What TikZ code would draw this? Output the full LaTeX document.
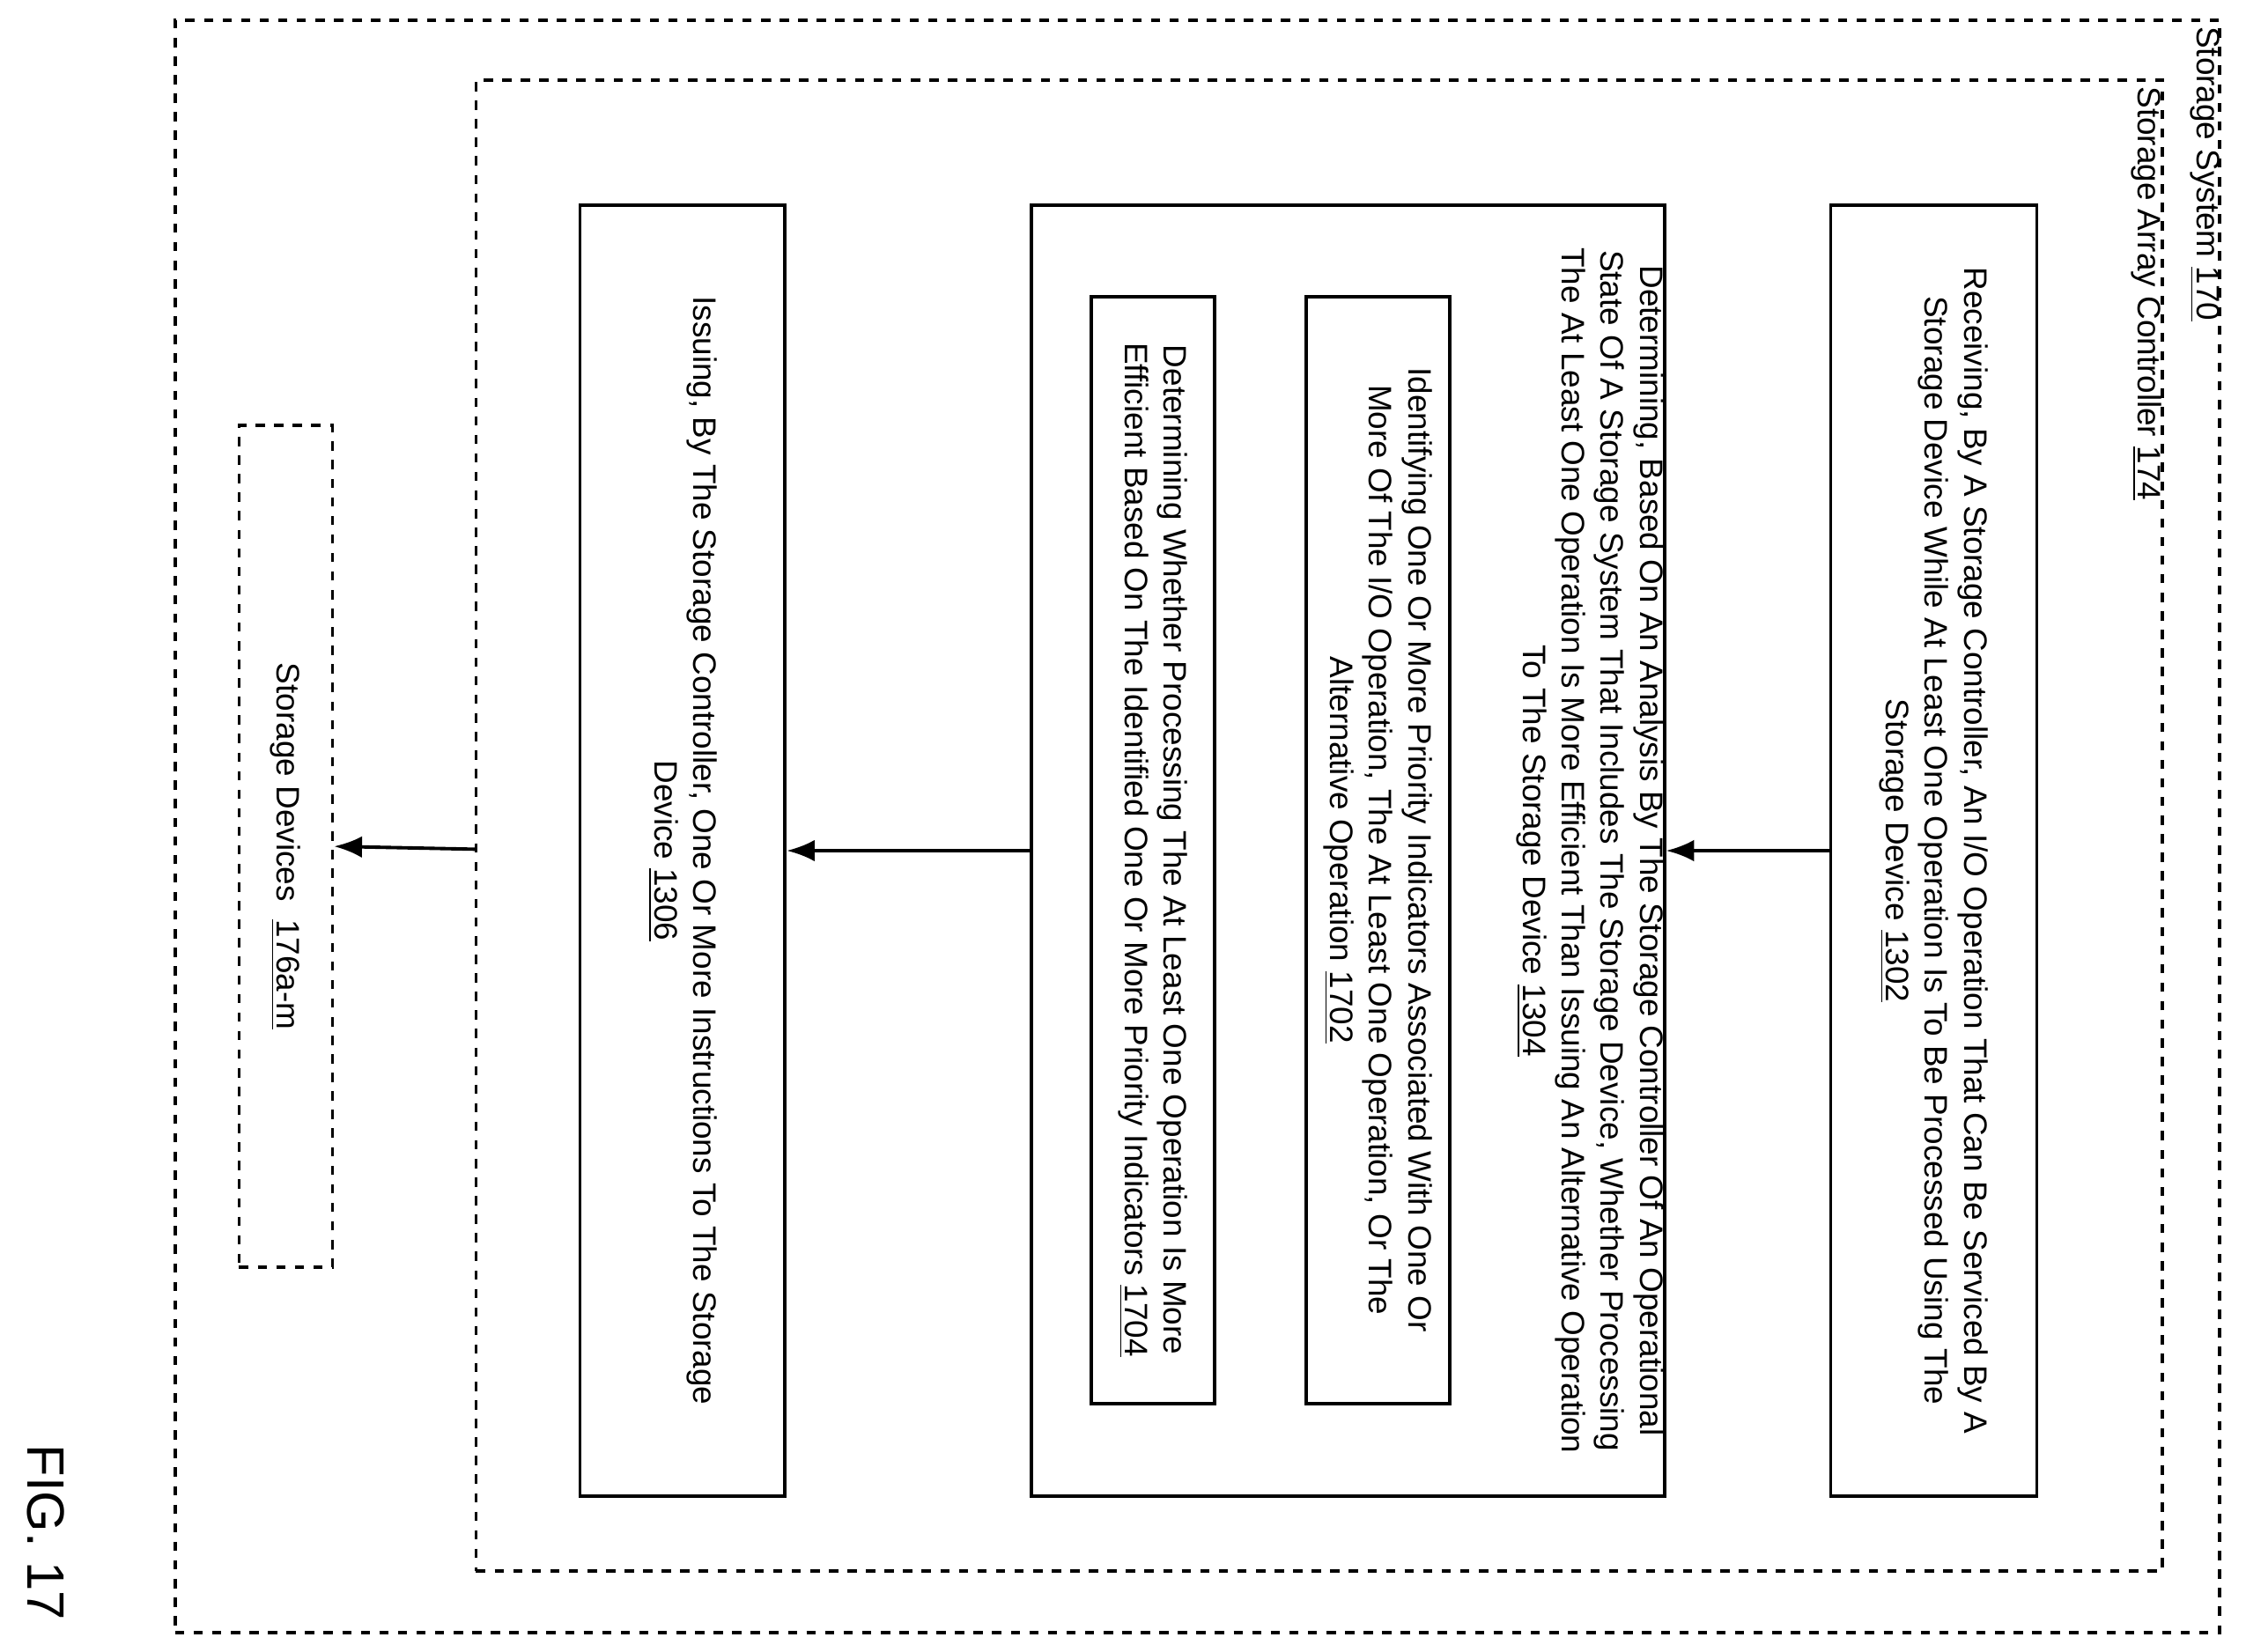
\documentclass[tikz,border=0pt]{standalone}
\usepackage{fontspec}
\setmainfont{Liberation Sans}
\usetikzlibrary{arrows.meta}
\begin{document}
\begin{tikzpicture}[x=0.01626cm,y=-0.01626cm,
  dbox/.style={draw,dashed,line width=1.1pt,inner sep=0pt},
  sbox/.style={draw,line width=1.1pt,inner sep=0pt},
  txt/.style={rotate=-90,align=center,font=\fontsize{10.5}{12.6}\selectfont,inner sep=0pt},
  lbl/.style={rotate=-90,anchor=north west,font=\fontsize{10.5}{12.6}\selectfont,inner sep=1pt},
  arr/.style={-{Latex[length=9pt,width=7pt]},line width=1.1pt}]
\useasboundingbox (0,0) rectangle (1568,1153);
\node[dbox,minimum width=23.22cm,minimum height=18.31cm] (sys) at (836,577) {};
\node[lbl] (sysl) at (1552,16) {Storage System \underline{170}};
\node[dbox,minimum width=19.15cm,minimum height=16.93cm] (ctl) at (921,576.5) {};
\node[lbl] (ctll) at (1512,58) {Storage Array Controller \underline{174}};
\node[sbox,minimum width=2.34cm,minimum height=14.67cm] (b1) at (1350,594) {};
\node[txt] (t1) at (1350,594) {Receiving, By A Storage Controller, An I/O Operation That Can Be Serviced By A\\Storage Device While At Least One Operation Is To Be Processed Using The\\Storage Device \underline{1302}};
\node[sbox,minimum width=7.19cm,minimum height=14.67cm] (b2) at (941,594) {};
\node[txt] (t2) at (1110,594) {Determining, Based On An Analysis By The Storage Controller Of An Operational\\State Of A Storage System That Includes The Storage Device, Whether Processing\\The At Least One Operation Is More Efficient Than Issuing An Alternative Operation\\To The Storage Device \underline{1304}};
\node[sbox,minimum width=1.63cm,minimum height=12.57cm] (b3) at (962,593.5) {};
\node[txt] (t3) at (962,593.5) {Identifying One Or More Priority Indicators Associated With One Or\\More Of The I/O Operation, The At Least One Operation, Or The\\Alternative Operation \underline{1702}};
\node[sbox,minimum width=1.40cm,minimum height=12.57cm] (b4) at (805,593.5) {};
\node[txt] (t4) at (805,593.5) {Determining Whether Processing The At Least One Operation Is More\\Efficient Based On The Identified One Or More Priority Indicators \underline{1704}};
\node[sbox,minimum width=2.33cm,minimum height=14.67cm] (b5) at (476.5,594) {};
\node[txt] (t5) at (476.5,594) {Issuing, By The Storage Controller, One Or More Instructions To The Storage\\Device \underline{1306}};
\node[dbox,minimum width=1.06cm,minimum height=9.56cm] (sd) at (199.5,591) {};
\node[txt] (t6) at (199.5,591) {Storage Devices\ \ \underline{176a-m}};
\draw[arr] (b1.west) -- (b2.east);
\draw[arr] (b2.west) -- (b5.east);
\coordinate (c1) at (332,593);
\draw[arr] (c1) -- (sd.east);
\node[rotate=-90,font=\fontsize{17}{20}\selectfont] (fig) at (32,1070) {FIG. 17};
\end{tikzpicture}
\end{document}
